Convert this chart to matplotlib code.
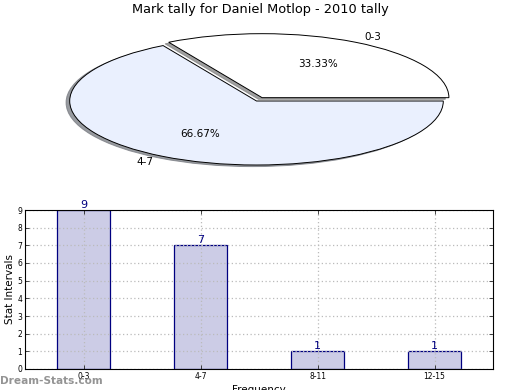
import numpy as np
import matplotlib
matplotlib.use("Agg")
import matplotlib.pyplot as plt

# pie data
pie_labels = ['0-3', '4-7']
pie_values = [1, 2]
pie_colors = ['#ffffff', '#eaf0fe']

# bar data
bar_labels = ['0-3', '4-7', '8-11', '12-15']
bar_values = [9, 7, 1, 1]

fig = plt.figure(figsize=(5.2, 3.9), dpi=100)

ax1 = fig.add_axes([23/520, 1-181/390, 467/520, 160/390])
wedges, texts, autotexts = ax1.pie(pie_values, labels=pie_labels, colors=pie_colors,
                                   explode=(0.06, 0), autopct='%1.2f%%',
                                   shadow={'ox': -0.014, 'oy': -0.018, 'shade': 0.5, 'alpha': 0.75},
                                   startangle=0, counterclock=True,
                                   wedgeprops={'edgecolor': 'black', 'linewidth': 0.7},
                                   textprops={'fontsize': 7.5})
ax1.set_aspect('auto')
ax1.set_xlim(-1.25, 1.25)
ax1.set_ylim(-1.25, 1.25)
fig.text(0.5, 1-10/390, 'Mark tally for Daniel Motlop - 2010 tally', ha='center', va='center', fontsize=9.3)

ax2 = fig.add_axes([25/520, 1-369/390, 468/520, 159/390])
x = np.arange(len(bar_values))
ax2.bar(x, bar_values, width=0.45, color='#ccccE6', edgecolor='#000080', linewidth=0.9, zorder=2)
for xi, v in zip(x, bar_values):
    ax2.text(xi, v, str(v), ha='center', va='bottom', color='#000080', fontsize=8, zorder=3)
ax2.set_xlim(-0.5, 3.5)
ax2.set_ylim(0, 9)
ax2.set_xticks(x)
ax2.set_xticklabels(bar_labels, fontsize=5.5)
ax2.set_yticks(range(10))
ax2.tick_params(axis='y', labelsize=5.5)
ax2.tick_params(direction='in', length=3, right=True, top=True, width=0.5, pad=2)
ax2.grid(True, linestyle=(0, (1, 2)), color='#bbbbbb', linewidth=0.9, zorder=3)
ax2.set_axisbelow(False)
for sp in ax2.spines.values():
    sp.set_zorder(4)
ax2.set_ylabel('Stat Intervals', fontsize=7.5, labelpad=2)
ax2.set_xlabel('Frequency', fontsize=7.5, labelpad=3)

fig.text(0, 1-381/390, 'Dream-Stats.com', ha='left', va='center', fontsize=7.6,
         fontweight='bold', color='#888888', alpha=0.9)

plt.savefig('out.png', dpi=100)
